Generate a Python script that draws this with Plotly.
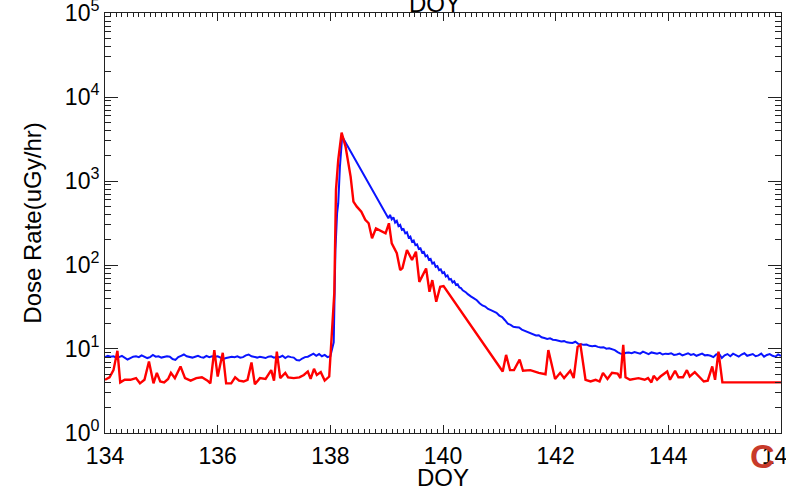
import numpy as np
import plotly.graph_objects as go

# ---- Dose-rate time series (day of year vs. uGy/hr) ----
# Blue trace, quiet period before the event (134.00 .. 138.00, 0.05-day cadence)
blue_quiet = [8.0, 8.3, 8.1, 8.2, 7.9, 8.0, 8.3, 7.9, 7.5, 7.8, 8.1, 8.2, 8.0, 8.4, 8.1, 7.8, 8.0, 8.5, 8.1, 8.2,
              7.9, 8.0, 8.2, 8.1, 7.6, 7.4, 8.0, 8.3, 8.6, 8.2, 8.0, 7.9, 8.1, 8.3, 8.0, 7.9, 8.3, 8.0, 8.2, 8.1,
              8.2, 7.9, 7.6, 7.8, 8.0, 8.1, 8.0, 8.2, 7.9, 8.0, 8.4, 8.6, 8.2, 8.0, 7.9, 8.1, 8.0, 7.8, 8.1, 8.2,
              7.9, 8.1, 8.0, 8.3, 7.8, 8.2, 8.0, 7.9, 7.4, 7.3, 7.7, 8.0, 8.1, 8.4, 8.8, 8.3, 8.7, 8.2, 8.5, 8.0,
              8.2]
# Blue onset and peak
blue_rise_doy = [138.06, 138.09, 138.12, 138.14, 138.17, 138.21]
blue_rise = [12, 150, 413, 540, 1480, 3380]
# Blue decay after the data gap (139.03 .. 140.50, 0.03-day cadence)
blue_decay = [360, 395, 350, 370, 320, 335, 290, 300, 262, 268,
              238, 245, 212, 218, 190, 196, 172, 176, 155, 158,
              140, 143, 127, 130, 115, 118, 104, 107, 95, 97,
              87, 89, 80, 82, 73, 75, 67, 68, 62, 64,
              58, 59, 54, 53, 50, 49, 47, 45, 43, 42]
# Blue recovery tail (140.55 .. 146.00, 0.05-day cadence)
blue_tail = [40, 38, 35, 33, 32, 30, 29, 28, 27, 25,
             24, 22, 20, 19.4, 18.4, 18.2, 18.0, 17.0, 16.5, 15.8,
             15.5, 15.0, 14.5, 14.6, 13.8, 13.5, 13.2, 13.4, 12.9, 12.8,
             12.5, 12.3, 12.4, 12.0, 11.9, 11.8, 12.2, 11.5, 11.4, 11.2,
             11.3, 10.9, 10.8, 10.9, 10.6, 10.4, 10.5, 10.1, 10.2, 9.9,
             9.7, 9.2, 8.8, 8.7, 9.0, 9.1, 8.9, 9.2, 9.0, 8.8,
             9.3, 9.0, 8.7, 9.1, 8.9, 8.8, 9.0, 8.6, 8.8, 8.7,
             8.9, 8.5, 8.6, 8.8, 8.4, 8.6, 8.9, 8.5, 8.7, 8.3,
             8.6, 8.8, 8.4, 8.5, 8.3, 8.0, 8.6, 8.8, 7.8, 8.4,
             8.7, 8.2, 8.8, 8.4, 8.1, 8.6, 8.9, 8.3, 8.5, 8.7,
             8.2, 8.4, 8.8, 8.1, 8.5, 8.7, 8.3, 8.1, 8.6, 8.3]

blue_doy = np.concatenate([
    np.linspace(134.0, 138.0, len(blue_quiet)),
    blue_rise_doy,
    np.linspace(139.03, 140.50, len(blue_decay)),
    np.linspace(140.55, 146.0, len(blue_tail)),
])
blue_dose = np.concatenate([blue_quiet, blue_rise, blue_decay, blue_tail])

# Red trace
red_doy = [134.00, 134.08, 134.15, 134.22, 134.27, 134.35, 134.45, 134.55, 134.62, 134.70,
           134.78, 134.86, 134.92, 134.98, 135.05, 135.12, 135.17, 135.24, 135.34, 135.42,
           135.52, 135.62, 135.72, 135.82, 135.87, 135.94, 136.00, 136.09, 136.15, 136.24,
           136.31, 136.38, 136.46, 136.53, 136.60, 136.66, 136.75, 136.85, 136.95, 137.00,
           137.05, 137.11, 137.20, 137.25, 137.35, 137.45, 137.53, 137.60, 137.65, 137.71,
           137.76, 137.83, 137.90, 137.98,
           138.07, 138.10, 138.14, 138.20,
           138.27, 138.36, 138.41, 138.47, 138.55, 138.62, 138.68, 138.74, 138.81, 138.98,
           139.04, 139.09, 139.18, 139.24, 139.28, 139.36, 139.45, 139.52, 139.58, 139.70,
           139.76, 139.81, 139.88, 139.95, 140.01,
           141.06, 141.12, 141.19, 141.26, 141.36, 141.42, 141.55, 141.70, 141.82, 141.87,
           141.99, 142.08, 142.15, 142.26, 142.32, 142.39, 142.44, 142.53, 142.62, 142.71,
           142.78, 142.84, 142.92, 143.00, 143.10, 143.15, 143.20, 143.24, 143.32, 143.47,
           143.58, 143.64, 143.70, 143.74, 143.80, 143.86, 143.98, 144.03, 144.12, 144.18,
           144.26, 144.33, 144.38, 144.47, 144.63, 144.70, 144.78, 144.83, 144.89, 144.96,
           146.00]
red_dose = [4.3, 4.6, 5.6, 9.5, 4.0, 4.3, 4.3, 4.5, 3.9, 4.3,
            7.1, 3.9, 5.2, 4.1, 4.0, 4.4, 5.2, 4.5, 6.2, 4.5,
            4.2, 4.5, 4.6, 4.2, 3.9, 9.7, 4.7, 9.0, 3.9, 3.9,
            4.6, 4.2, 4.1, 4.3, 6.9, 3.8, 4.5, 4.4, 5.6, 4.2,
            9.3, 4.5, 5.2, 4.6, 4.5, 4.6, 4.9, 5.4, 4.4, 5.8,
            4.9, 5.3, 4.2, 4.7,
            46, 785, 1780, 3760,
            2570, 1130, 568, 495, 430, 345, 314, 208, 273, 238,
            314, 181, 138, 87, 92, 151, 115, 144, 63, 91,
            48, 66, 36.5, 55, 56,
            5.4, 8.5, 5.6, 5.6, 7.5, 5.5, 5.6, 5.2, 5.0, 9.7,
            4.4, 5.2, 4.5, 5.5, 4.5, 10.6, 11.2, 4.3, 4.1, 4.3,
            4.1, 5.2, 4.4, 5.2, 5.1, 4.5, 11.2, 4.6, 4.3, 4.5,
            4.3, 4.5, 4.0, 4.8, 4.3, 4.7, 5.4, 4.3, 5.5, 4.6,
            4.6, 5.6, 4.7, 5.3, 4.1, 4.2, 6.2, 4.3, 9.3, 4.0,
            4.0]

# Axis labelling
x_tick_vals = [134, 136, 138, 140, 142, 144, 146]
y_tick_vals = [1, 10, 100, 1000, 10000, 100000]
y_tick_text = ["10<sup>0</sup>", "10<sup>1</sup>", "10<sup>2</sup>",
               "10<sup>3</sup>", "10<sup>4</sup>", "10<sup>5</sup>"]

FONT = "Liberation Sans, Arial, sans-serif"

fig = go.Figure()
fig.add_trace(go.Scatter(x=blue_doy, y=blue_dose, mode="lines",
                         line=dict(color="#0a14ff", width=2), showlegend=False))
fig.add_trace(go.Scatter(x=red_doy, y=red_dose, mode="lines",
                         line=dict(color="#ff0000", width=2.4), showlegend=False))

axis_common = dict(showline=True, linecolor="#222", linewidth=1, mirror="allticks",
                   ticks="inside", tickcolor="#222", showgrid=False, zeroline=False,
                   ticklabeloverflow="allow", automargin=False)

# Ranges padded by a hair so the end ticks (134/146, 10^0/10^5) are kept
fig.update_xaxes(range=[133.9995, 146.0005], tickvals=x_tick_vals, ticklen=8,
                 tickfont=dict(family=FONT, size=23, color="black"), ticklabelstandoff=2,
                 minor=dict(dtick=0.1, tick0=134, ticks="inside", ticklen=4, tickcolor="#222", showgrid=False),
                 title=dict(text="DOY", font=dict(family=FONT, size=24, color="black"), standoff=3),
                 **axis_common)
fig.update_yaxes(type="log", range=[-0.0002, 5.0002], tickvals=y_tick_vals, ticktext=y_tick_text, ticklen=13,
                 tickfont=dict(family=FONT, size=23, color="black"),
                 minor=dict(dtick="D1", ticks="inside", ticklen=6, tickcolor="#222", showgrid=False),
                 title=dict(text="Dose Rate(uGy/hr)", font=dict(family=FONT, size=24, color="black"), standoff=16),
                 **axis_common)

# Top label, partially running off the page edge
fig.add_annotation(text="DOY", xref="paper", yref="paper", x=0.488, y=1.0, yanchor="bottom",
                   yshift=-6, showarrow=False, font=dict(family=FONT, size=24, color="black"))

# Institutional mark in the lower-right corner
fig.add_annotation(text="<b>C</b>", xref="paper", yref="paper", x=1.0, y=-0.105, xanchor="right",
                   xshift=-4, showarrow=False, font=dict(family=FONT, size=34, color="#c83a2a"))
fig.add_shape(type="line", xref="paper", yref="paper", x0=0.955, x1=1.01, y0=-0.17, y1=-0.17,
              line=dict(color="#3560a8", width=2))
fig.add_annotation(text="UNH - I", xref="paper", yref="paper", x=0.96, y=-0.18, xanchor="left",
                   yanchor="top", showarrow=False, font=dict(family=FONT, size=7, color="#c83a2a"))

fig.update_layout(width=786, height=491, margin=dict(l=105, r=5, t=13, b=58, autoexpand=False),
                  plot_bgcolor="white", paper_bgcolor="white")

fig.write_html("out.html")
